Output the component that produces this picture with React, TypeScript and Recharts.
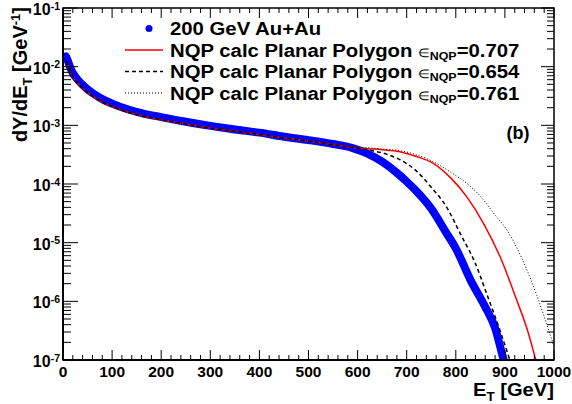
import React from 'react'
import { LineChart, Line, XAxis, YAxis, ReferenceArea } from 'recharts'

// measured 200 GeV Au+Au points [E_T (GeV), dY/dE_T]
const auAuPoints: [number, number][] = [
  [6, 1.5e-2], [10, 1.25e-2], [15, 9.5e-3], [20, 7.8e-3], [30, 6.0e-3], [40, 4.9e-3],
  [50, 4.1e-3], [60, 3.55e-3], [80, 2.8e-3], [100, 2.35e-3], [130, 1.9e-3], [160, 1.62e-3],
  [200, 1.38e-3], [250, 1.15e-3], [300, 9.8e-4], [350, 8.5e-4], [400, 7.5e-4], [450, 6.4e-4],
  [500, 5.6e-4], [550, 4.8e-4], [590, 4.1e-4], [620, 3.3e-4], [650, 2.4e-4], [680, 1.55e-4],
  [700, 1.1e-4], [720, 7.5e-5], [750, 3.8e-5], [780, 1.5e-5], [800, 8e-6], [830, 2.3e-6],
  [860, 8e-7], [880, 3.5e-7], [895, 1.2e-7], [905, 6e-8],
]

// NQP calculation, same for all three eps values below ~590 GeV
const calcCommon: [number, number][] = [
  [8, 1.25e-2], [10, 1.1e-2], [15, 8.3e-3], [20, 6.8e-3], [30, 5.2e-3], [40, 4.3e-3],
  [50, 3.6e-3], [60, 3.15e-3], [80, 2.5e-3], [100, 2.1e-3], [130, 1.7e-3], [160, 1.46e-3],
  [200, 1.25e-3], [250, 1.05e-3], [300, 9.0e-4], [350, 7.9e-4], [400, 7.0e-4], [450, 6.1e-4],
  [500, 5.4e-4], [550, 4.7e-4], [590, 4.2e-4],
]

const tail0707: [number, number][] = [
  [620, 4.0e-4], [650, 3.85e-4], [686, 3.55e-4], [720, 2.94e-4], [754, 2.25e-4],
  [790, 1.26e-4], [822, 6.1e-5], [856, 2.16e-5], [890, 5.8e-6], [924, 1.05e-6],
  [945, 3.4e-7], [963, 1e-7], [980, 3e-8],
]
const tail0654: [number, number][] = [
  [630, 3.7e-4], [660, 3.2e-4], [686, 2.6e-4], [720, 1.66e-4], [750, 8.8e-5],
  [780, 4.2e-5], [812, 1.28e-5], [840, 4.4e-6], [863, 1.34e-6], [890, 3.2e-7],
  [910, 1e-7], [925, 4e-8],
]
const tail0761: [number, number][] = [
  [620, 4.15e-4], [650, 3.95e-4], [686, 3.7e-4], [720, 3.15e-4], [754, 2.4e-4],
  [790, 1.58e-4], [822, 1.03e-4], [850, 6.2e-5], [880, 2.96e-5], [904, 1.64e-5],
  [935, 5.3e-6], [965, 1.26e-6], [985, 4.1e-7], [1000, 1.7e-7],
]

const epsLabels = ['0.707', '0.654', '0.761']

const toRows = (pts: [number, number][]) => pts.map(([x, y]) => ({ x, y }))

const W = 572
const H = 404
const PLOT_LEFT = 63
const PLOT_RIGHT = 554
const PLOT_TOP = 8

const xTicks = Array.from({ length: 51 }, (_, i) => i * 20)
const yTicks: number[] = []
for (let e = -7; e <= -1; e++) {
  yTicks.push(Math.pow(10, e))
  if (e < -1) for (let m = 2; m <= 9; m++) yTicks.push(m * Math.pow(10, e))
}

const FONT = '"Liberation Sans", Arial, Helvetica, sans-serif'

const isDecade = (v: number) => {
  const l = Math.log10(v)
  return Math.abs(l - Math.round(l)) < 1e-6
}

function YTick(props: any) {
  const { x, y, payload } = props
  const v = payload.value
  const major = isDecade(v)
  const exp = Math.round(Math.log10(v))
  return (
    <g>
      <line x1={x} x2={x + (major ? 15 : 8)} y1={y} y2={y} stroke="#000" strokeWidth={1} />
      <line x1={PLOT_RIGHT} x2={PLOT_RIGHT - (major ? 13 : 7)} y1={y} y2={y} stroke="#000" strokeWidth={1} />
      {major && (
        <text x={x - 3} y={y + 7} textAnchor="end" fontFamily={FONT} fontWeight="bold" fontSize={16} fill="#000">
          10<tspan dy={-5.5} fontSize={10.5}>{exp}</tspan>
        </text>
      )}
    </g>
  )
}

function XTick(props: any) {
  const { x, y, payload } = props
  const v = payload.value
  const major = v % 100 === 0
  const len = major ? 10 : 5
  return (
    <g>
      <line x1={x} x2={x} y1={y} y2={y - len} stroke="#000" strokeWidth={1} />
      <line x1={x} x2={x} y1={PLOT_TOP} y2={PLOT_TOP + len} stroke="#000" strokeWidth={1} />
      {major && (
        <text x={x} y={y + 17} textAnchor="middle" fontFamily={FONT} fontWeight="bold" fontSize={15.5} fill="#000">
          {v}
        </text>
      )}
    </g>
  )
}

const calcStyles = [
  { stroke: '#ff0000', dash: undefined, width: 1.5 },
  { stroke: '#000000', dash: '4 3', width: 1.5 },
  { stroke: '#000000', dash: '1 2', width: 1 },
]
const tails = [tail0707, tail0654, tail0761]

function Overlay() {
  const rowY = [28.5, 50, 71.5, 93]
  const textX = 170
  const stretch = 'scale(1.13,1)'
  return (
    <svg width={W} height={H} style={{ position: 'absolute', left: 0, top: 0, pointerEvents: 'none' }}>
      {/* legend */}
      <circle cx={149} cy={rowY[0]} r={3.5} fill="#0000ff" />
      <g transform={`translate(${textX},${rowY[0] + 6.5}) ${stretch}`}>
        <text fontFamily={FONT} fontWeight="bold" fontSize={18} fill="#000">200 GeV Au+Au</text>
      </g>
      {epsLabels.map((eps, i) => {
        const s = calcStyles[i]
        const y = rowY[i + 1]
        return (
          <g key={eps}>
            <line x1={125} x2={163} y1={y} y2={y} stroke={s.stroke} strokeWidth={s.width} strokeDasharray={s.dash} />
            <g transform={`translate(${textX},${y + 6.5}) ${stretch}`}>
              <text fontFamily={FONT} fontWeight="bold" fontSize={18} fill="#000">
                NQP calc Planar Polygon{' '}
                <tspan fontWeight="normal" fontSize={12}>∈</tspan>
                <tspan fontSize={11} dy={3}>NQP</tspan>
                <tspan dy={-3}>={eps}</tspan>
              </text>
            </g>
          </g>
        )
      })}
      {/* panel tag */}
      <text x={518} y={139} textAnchor="middle" fontFamily={FONT} fontWeight="bold" fontSize={18} fill="#000">(b)</text>
      {/* axis titles */}
      <g transform={`translate(${PLOT_RIGHT},396) scale(1.12,1)`}>
        <text textAnchor="end" fontFamily={FONT} fontWeight="bold" fontSize={18} fill="#000">
          E<tspan fontSize={12} dy={5}>T</tspan><tspan dy={-5}> [GeV]</tspan>
        </text>
      </g>
      <g transform="translate(27,7) rotate(-90)">
        <text textAnchor="end" fontFamily={FONT} fontWeight="bold" fontSize={20} fill="#000">
          dY/dE<tspan fontSize={13} dy={5}>T</tspan><tspan dy={-5}> [GeV</tspan>
          <tspan fontSize={13} dy={-7}>-1</tspan><tspan dy={7}>]</tspan>
        </text>
      </g>
    </svg>
  )
}

export default function App() {
  return (
    <div style={{ position: 'absolute', left: 0, top: 0, width: W, height: H, background: '#fff' }}>
      <LineChart width={W} height={H} margin={{ top: PLOT_TOP, right: W - PLOT_RIGHT, left: 8, bottom: 14 }}>
        <XAxis
          type="number"
          dataKey="x"
          domain={[0, 1000]}
          ticks={xTicks}
          interval={0}
          allowDataOverflow
          height={30}
          tickSize={0}
          tickMargin={0}
          tick={<XTick />}
          axisLine={{ stroke: '#000', strokeWidth: 2 }}
        />
        <YAxis
          type="number"
          dataKey="y"
          scale="log"
          domain={[1e-7, 1e-1]}
          ticks={yTicks}
          interval={0}
          allowDataOverflow
          width={PLOT_LEFT - 8}
          tickSize={0}
          tickMargin={0}
          tick={<YTick />}
          axisLine={{ stroke: '#000', strokeWidth: 2 }}
        />
        <ReferenceArea x1={0} x2={1000} y1={1e-7} y2={1e-1} fill="none" stroke="#000" strokeWidth={1.5} />
        <Line
          data={toRows(auAuPoints)}
          dataKey="y"
          type="monotone"
          stroke="#0000ff"
          strokeWidth={8}
          strokeLinecap="round"
          dot={false}
          isAnimationActive={false}
        />
        {tails.map((tail, i) => (
          <Line
            key={epsLabels[i]}
            data={toRows([...calcCommon, ...tail])}
            dataKey="y"
            type="monotone"
            stroke={calcStyles[i].stroke}
            strokeWidth={calcStyles[i].width}
            strokeDasharray={calcStyles[i].dash}
            dot={false}
            isAnimationActive={false}
          />
        ))}
      </LineChart>
      <Overlay />
    </div>
  )
}
